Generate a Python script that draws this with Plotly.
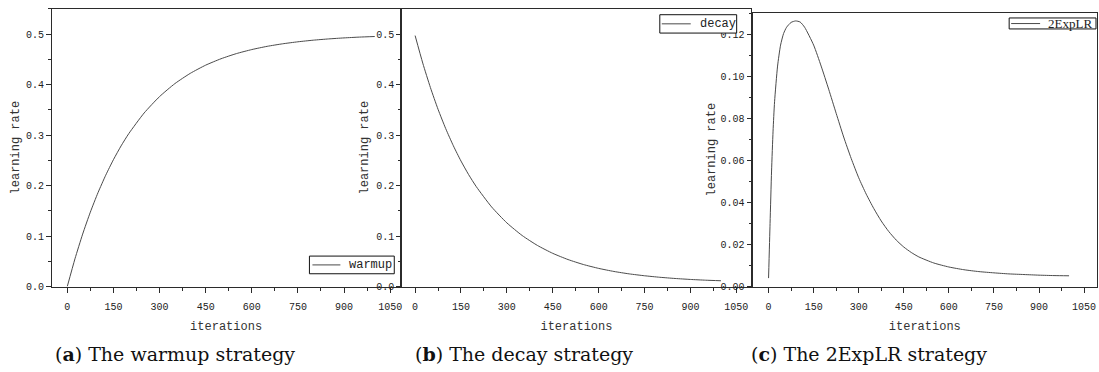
import plotly.graph_objects as go

# ---------------- data ----------------
iters_ab = [0, 25, 50, 75, 100, 125, 150, 175, 200, 250, 300, 350, 400, 450, 500,
            550, 600, 650, 700, 750, 800, 850, 900, 950, 1000]
warmup = [0.0, 0.0549, 0.1038, 0.1473, 0.1860, 0.2204, 0.2511, 0.2785, 0.3028, 0.3437,
          0.3761, 0.4019, 0.4222, 0.4384, 0.4511, 0.4613, 0.4693, 0.4757, 0.4807, 0.4847,
          0.4879, 0.4904, 0.4924, 0.4940, 0.4952]
decay = [0.497, 0.4425, 0.3941, 0.3510, 0.3128, 0.2788, 0.2485, 0.2216, 0.1978, 0.1577,
         0.1260, 0.1010, 0.0813, 0.0657, 0.0534, 0.0436, 0.0359, 0.0298, 0.0250, 0.0213,
         0.0183, 0.0159, 0.0140, 0.0125, 0.0114]

iters_c = [0, 5, 10, 15, 20, 30, 40, 50, 60, 75, 90, 105, 120, 150, 175, 200, 225, 250,
           275, 300, 325, 350, 375, 400, 425, 450, 475, 500, 550, 600, 650, 700, 750,
           800, 850, 900, 950, 1000]
explr = [0.004, 0.030, 0.055, 0.074, 0.088, 0.105, 0.115, 0.1205, 0.1235, 0.1258, 0.1265,
         0.1260, 0.1235, 0.1150, 0.1050, 0.0940, 0.0825, 0.0712, 0.0610, 0.0518, 0.0440,
         0.0372, 0.0312, 0.0262, 0.0221, 0.0188, 0.0162, 0.0141, 0.0112, 0.0093, 0.0080,
         0.0071, 0.0065, 0.0060, 0.0057, 0.0054, 0.0052, 0.0051]

x_ticks = [0, 150, 300, 450, 600, 750, 900, 1050]
x_ticktext = ["0", "150", "300", "450", "600", "750", "900", "1050"]
y_ticks_ab = [0.0, 0.1, 0.2, 0.3, 0.4, 0.5]
y_ticktext_ab = ["0.0", "0.1", "0.2", "0.3", "0.4", "0.5"]
y_ticks_c = [0.00, 0.02, 0.04, 0.06, 0.08, 0.10, 0.12]
y_ticktext_c = ["0.00", "0.02", "0.04", "0.06", "0.08", "0.10", "0.12"]

series_names = ["warmup", "decay", "2ExpLR"]
captions = ["(<b>a</b>) The warmup strategy", "(<b>b</b>) The decay strategy",
            "(<b>c</b>) The 2ExpLR strategy"]

# ---------------- layout helpers ----------------
W, H = 1099, 372
def fx(px):
    return px / W
def fy(py):
    return 1 - py / H

AX = "#2b2b2b"
CURVE = "#4a4a4a"
MONO = "Liberation Mono"

fig = go.Figure()
fig.add_trace(go.Scatter(x=iters_ab, y=warmup, mode="lines", name=series_names[0],
                         line=dict(color=CURVE, width=1, shape="spline", smoothing=0.6),
                         xaxis="x", yaxis="y", showlegend=False))
fig.add_trace(go.Scatter(x=iters_ab, y=decay, mode="lines", name=series_names[1],
                         line=dict(color=CURVE, width=1, shape="spline", smoothing=0.6),
                         xaxis="x2", yaxis="y2", showlegend=False))
fig.add_trace(go.Scatter(x=iters_c, y=explr, mode="lines", name=series_names[2],
                         line=dict(color=CURVE, width=1, shape="spline", smoothing=0.6),
                         xaxis="x3", yaxis="y3", showlegend=False))

def xaxis(dom, rng, anchor):
    return dict(domain=[fx(dom[0]), fx(dom[1])], range=rng, anchor=anchor,
                tickmode="array", tickvals=x_ticks, ticktext=x_ticktext,
                ticks="outside", ticklen=5, tickwidth=1, tickcolor=AX,
                ticklabelstandoff=5,
                minor=dict(tick0=0, dtick=75, ticks="outside", ticklen=3, tickcolor=AX),
                showline=True, linecolor=AX, linewidth=1, mirror=True,
                showgrid=False, zeroline=False,
                tickfont=dict(family=MONO, size=10, color="#222"),
                title=dict(text="iterations", font=dict(family=MONO, size=12, color="#333"),
                           standoff=10))

def yaxis(dom, rng, anchor, tv, tt, minor_dt, standoff):
    return dict(domain=[fy(dom[1]), fy(dom[0])], range=rng, anchor=anchor,
                tickmode="array", tickvals=tv, ticktext=tt,
                ticks="outside", ticklen=5, tickwidth=1, tickcolor=AX,
                minor=dict(tick0=0, dtick=minor_dt, ticks="outside", ticklen=3, tickcolor=AX),
                showline=True, linecolor=AX, linewidth=1, mirror=True,
                showgrid=False, zeroline=False,
                tickfont=dict(family=MONO, size=10, color="#222"),
                title=dict(text="learning rate", font=dict(family=MONO, size=12, color="#333"),
                           standoff=standoff))

layout = dict(
    width=W, height=H, autosize=False,
    margin=dict(l=0, r=0, t=0, b=0),
    paper_bgcolor="white", plot_bgcolor="rgba(0,0,0,0)",
    showlegend=False,
    xaxis=xaxis((52, 401), [-50, 1083], "y"),
    yaxis=yaxis((9, 292), [0, 0.55], "x", y_ticks_ab, y_ticktext_ab, 0.05, 3),
    xaxis2=xaxis((403, 752), [-42, 1097], "y2"),
    yaxis2=yaxis((9, 292), [0, 0.55], "x2", y_ticks_ab, y_ticktext_ab, 0.05, 5),
    xaxis3=xaxis((754, 1099), [-53, 1093], "y3"),
    yaxis3=yaxis((13, 292), [0, 0.1304], "x3", y_ticks_c, y_ticktext_c, 0.01, 2),
)
fig.update_layout(**layout)

# ---------------- legends (boxes with line sample and text) ----------------
legend_boxes = [
    dict(box=(310, 261, 395, 279), line=(313, 341, 270), tx=348, font=dict(family=MONO, size=12, color="#222")),
    dict(box=(661, 15, 738, 33.7), line=(663, 692, 24.3), tx=699, font=dict(family=MONO, size=12, color="#222")),
    dict(box=(1011, 18.3, 1098, 29.5), line=(1013, 1042, 24), tx=1048, font=dict(family="Liberation Serif", size=13, color="#222")),
]
for name, lb in zip(series_names, legend_boxes):
    x0, y0, x1, y1 = lb["box"]
    fig.add_shape(type="rect", xref="paper", yref="paper",
                  x0=fx(x0), x1=fx(x1), y0=fy(y1), y1=fy(y0),
                  line=dict(color="#111", width=1), fillcolor="white", layer="above")
    lx0, lx1, ly = lb["line"]
    fig.add_shape(type="line", xref="paper", yref="paper",
                  x0=fx(lx0), x1=fx(lx1), y0=fy(ly), y1=fy(ly),
                  line=dict(color=CURVE, width=1), layer="above")
    fig.add_annotation(text=name, xref="paper", yref="paper", x=fx(lb["tx"]), y=fy(ly),
                       xanchor="left", yanchor="middle", showarrow=False, font=lb["font"])

# ---------------- captions ----------------
cap_x = [53, 414, 750]
for cx, cap in zip(cap_x, captions):
    fig.add_annotation(text=cap, xref="paper", yref="paper", x=fx(cx), y=fy(361),
                       xanchor="left", yanchor="middle", showarrow=False,
                       font=dict(family="DejaVu Serif", size=19, color="#111"))

fig.write_html("out.html")
